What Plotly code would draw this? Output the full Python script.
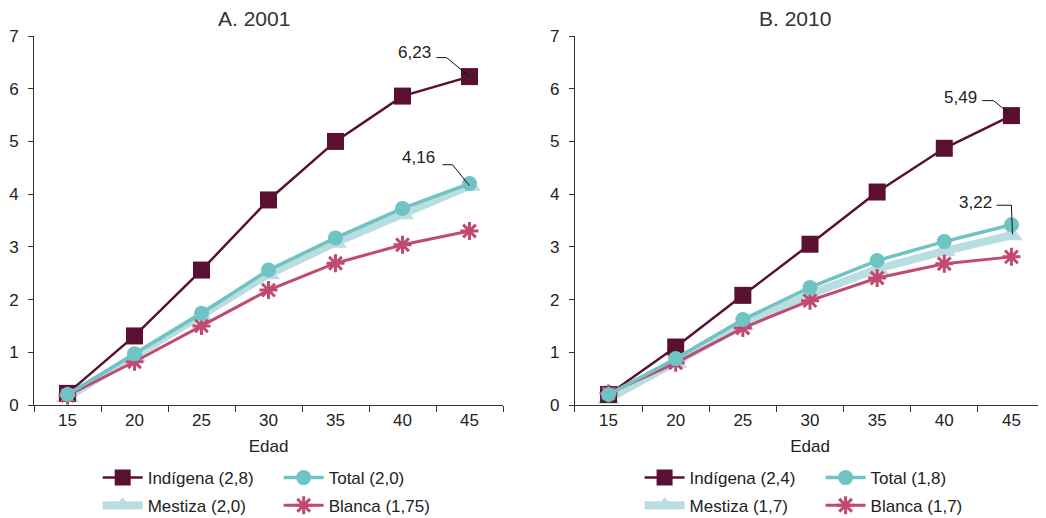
import plotly.graph_objects as go

ages = ["15", "20", "25", "30", "35", "40", "45"]

# Panel A (2001)
ind_2001 = [0.22, 1.31, 2.56, 3.89, 5.00, 5.86, 6.23]
tot_2001 = [0.20, 0.97, 1.74, 2.56, 3.17, 3.73, 4.20]
mes_2001 = [0.15, 0.92, 1.68, 2.48, 3.08, 3.62, 4.16]
bla_2001 = [0.18, 0.82, 1.50, 2.18, 2.69, 3.04, 3.30]

# Panel B (2010)
ind_2010 = [0.20, 1.10, 2.08, 3.05, 4.04, 4.87, 5.49]
tot_2010 = [0.20, 0.88, 1.62, 2.23, 2.74, 3.10, 3.42]
mes_2010 = [0.12, 0.80, 1.52, 2.10, 2.58, 2.92, 3.22]
bla_2010 = [0.22, 0.80, 1.46, 1.98, 2.41, 2.68, 2.81]

names_2001 = {"ind": "Indígena (2,8)", "tot": "Total (2,0)", "mes": "Mestiza (2,0)", "bla": "Blanca (1,75)"}
names_2010 = {"ind": "Indígena (2,4)", "tot": "Total (1,8)", "mes": "Mestiza (1,7)", "bla": "Blanca (1,7)"}
titles = ["A. 2001", "B. 2010"]
yticks = [0, 1, 2, 3, 4, 5, 6, 7]

C_IND = "#5a1031"
C_TOT = "#6fc3c2"
C_MES = "#b9dde1"
C_BLA = "#c14a73"
TXT = "#222222"
AX = "#333333"

fig = go.Figure()

def add_panel(xa, ya, ind, tot, mes, bla, names, lg1, lg2):
    fig.add_trace(go.Scatter(x=ages, y=mes, name=names["mes"], mode="lines+markers",
                             line=dict(color=C_MES, width=8),
                             marker=dict(symbol="triangle-up", size=20, color=C_MES),
                             xaxis=xa, yaxis=ya, legend=lg2))
    fig.add_trace(go.Scatter(x=ages, y=ind, name=names["ind"], mode="lines+markers",
                             line=dict(color=C_IND, width=2.5),
                             marker=dict(symbol="square", size=17, color=C_IND),
                             xaxis=xa, yaxis=ya, legend=lg1))
    fig.add_trace(go.Scatter(x=ages, y=bla, name=names["bla"], mode="lines+markers",
                             line=dict(color=C_BLA, width=3),
                             marker=dict(symbol="asterisk-open", size=15, color=C_BLA,
                                         line=dict(color=C_BLA, width=3)),
                             xaxis=xa, yaxis=ya, legend=lg2))
    fig.add_trace(go.Scatter(x=ages, y=tot, name=names["tot"], mode="lines+markers",
                             line=dict(color=C_TOT, width=3.5),
                             marker=dict(symbol="circle", size=15, color=C_TOT),
                             xaxis=xa, yaxis=ya, legend=lg1))

add_panel("x", "y", ind_2001, tot_2001, mes_2001, bla_2001, names_2001, "legend", "legend2")
add_panel("x2", "y2", ind_2010, tot_2010, mes_2010, bla_2010, names_2010, "legend3", "legend4")

xcommon = dict(type="category", tickson="boundaries", ticks="outside", ticklen=6,
               tickcolor=AX, showline=True, linecolor=AX, linewidth=1, showgrid=False,
               zeroline=False, tickfont=dict(size=17, color=TXT), range=[-0.5, 6.5],
               title=dict(text="Edad", font=dict(size=17, color=TXT), standoff=10))
ycommon = dict(range=[0, 7], tickvals=yticks, ticks="outside", ticklen=5, tickcolor=AX,
               showline=True, linecolor=AX, linewidth=1, showgrid=False, zeroline=False,
               tickfont=dict(size=17, color=TXT), ticklabelstandoff=6)

fig.update_layout(
    xaxis=dict(domain=[0, 0.4639], anchor="y", **xcommon),
    xaxis2=dict(domain=[0.5351, 1.0], anchor="y2", **xcommon),
    yaxis=dict(domain=[0, 1], anchor="x", **ycommon),
    yaxis2=dict(domain=[0, 1], anchor="x2", **ycommon),
)

leg_common = dict(orientation="h", yanchor="middle", xanchor="left",
                  font=dict(size=17, color=TXT), entrywidth=126, entrywidthmode="pixels",
                  bgcolor="rgba(0,0,0,0)", itemwidth=40, tracegroupgap=0)
fig.update_layout(
    legend=dict(x=0.063, y=-0.198, **leg_common),
    legend2=dict(x=0.063, y=-0.273, **leg_common),
    legend3=dict(x=0.599, y=-0.198, **leg_common),
    legend4=dict(x=0.599, y=-0.273, **leg_common),
)

annots = []
for i, t in enumerate(titles):
    xd = fig.layout.xaxis.domain if i == 0 else fig.layout.xaxis2.domain
    annots.append(dict(text=t, x=(xd[0] + xd[1]) / 2, y=1.0, xref="paper", yref="paper",
                       xanchor="center", yanchor="bottom", yshift=4, xshift=-15,
                       showarrow=False, font=dict(size=21, color="#333333")))

# value callouts: (axis, axis, value, text dx, text dy, [segments in px relative to point])
last = len(ages) - 1
callouts = [
    ("x", "y", ind_2001[-1], -55, 24, [(0, 0, -23, 19), (-23, 19, -33, 19)]),
    ("x", "y", mes_2001[-1], -51, 28, [(0, 0, -17, 21), (-17, 21, -27, 21)]),
    ("x2", "y2", ind_2010[-1], -51, 18, [(-3, 3, -18, 15), (-18, 15, -29, 15)]),
    ("x2", "y2", mes_2010[-1], -36, 33, [(1, 1, 0, 30), (0, 30, -15, 30)]),
]
shapes = []
for xa, ya, val, dx, dy, segs in callouts:
    annots.append(dict(text=f"{val:.2f}".replace(".", ","), x=last, y=val, xref=xa, yref=ya,
                       xanchor="center", showarrow=False, xshift=dx, yshift=dy,
                       font=dict(size=17, color=TXT)))
    for (a0, b0, a1, b1) in segs:
        shapes.append(dict(type="line", xref=xa, yref=ya, xsizemode="pixel", ysizemode="pixel",
                           xanchor=last, yanchor=val, x0=a0, y0=b0, x1=a1, y1=b1,
                           line=dict(color="#111111", width=1)))

# the page body adds an 8px margin at the top-left, so the figure is 8px smaller
fig.update_layout(
    annotations=annots, shapes=shapes,
    width=1038, height=510,
    margin=dict(l=26, r=1, t=28, b=113, autoexpand=False),
    plot_bgcolor="white", paper_bgcolor="white",
    font=dict(family="Liberation Sans, Arial, sans-serif", size=17, color=TXT),
)

fig.write_html("out.html")
